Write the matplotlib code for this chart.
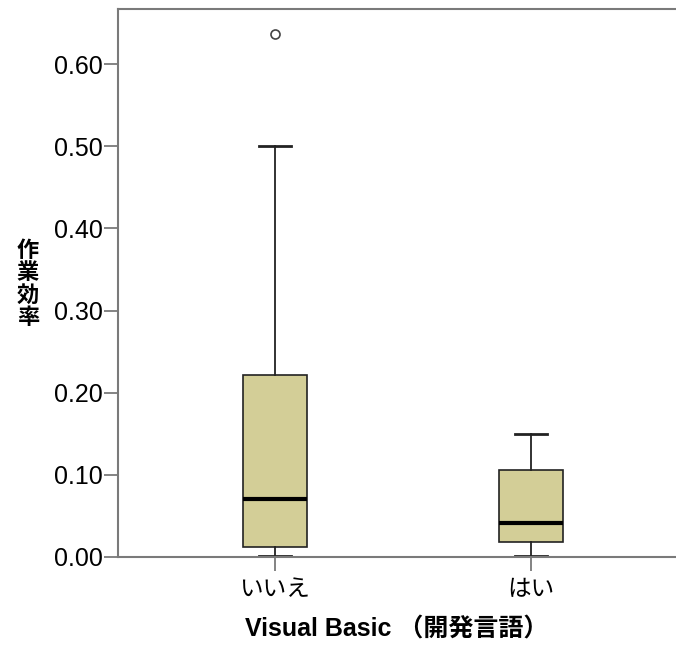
import matplotlib
matplotlib.use("Agg")
import matplotlib.pyplot as plt

# data
groups = ["いいえ", "はい"]
whis_low = [0.001, 0.001]
q1 = [0.012, 0.018]
medians = [0.071, 0.041]
q3 = [0.222, 0.106]
whis_high = [0.500, 0.150]
outliers = [[0.636], []]

y_ticks = [0.0, 0.1, 0.2, 0.3, 0.4, 0.5, 0.6]

BOX_FILL = "#D3CE97"
SPINE = "#7a7a7a"
JP = ["Noto Sans CJK JP", "DejaVu Sans"]

plt.rcParams["font.family"] = ["Liberation Sans", "Noto Sans CJK JP"]

stats = []
for i, name in enumerate(groups):
    stats.append({
        "label": name,
        "whislo": whis_low[i],
        "q1": q1[i],
        "med": medians[i],
        "q3": q3[i],
        "whishi": whis_high[i],
        "fliers": outliers[i],
    })

fig = plt.figure(figsize=(6.76, 6.46), dpi=100)
ax = fig.add_axes([118 / 676, 89 / 646, 1 - 118 / 676, 548 / 646])

ax.bxp(
    stats,
    positions=[1, 2],
    widths=0.25,
    capwidths=0.125,
    patch_artist=True,
    boxprops=dict(facecolor=BOX_FILL, edgecolor="#222222", linewidth=1.2),
    medianprops=dict(color="black", linewidth=3),
    whiskerprops=dict(color="#222222", linewidth=1.3),
    capprops=dict(color="#222222", linewidth=2),
    flierprops=dict(marker="o", markerfacecolor="white", markeredgecolor="#444444",
                    markersize=6.5, markeredgewidth=1.2),
)

ax.set_xlim(0.387, 2.566)
ax.set_ylim(0, 0.667)
ax.set_yticks(y_ticks)
ax.set_yticklabels([f"{v:.2f}" for v in y_ticks], fontsize=18)
ax.set_xticks([1, 2])
ax.set_xticklabels(groups, family=JP, fontsize=17)

for side in ("left", "bottom", "top"):
    ax.spines[side].set_color(SPINE)
    ax.spines[side].set_linewidth(1.5)
ax.spines["right"].set_visible(False)
ax.tick_params(axis="both", color=SPINE, width=1.3, length=10, pad=1)
ax.tick_params(axis="x", pad=5)

ax.set_xlabel("Visual Basic （開発言語）", family=["Liberation Sans", "Noto Sans CJK JP"],
              fontsize=18, fontweight="bold", labelpad=12)
fig.text(28 / 676, 1 - 284 / 646, "作\n業\n効\n率", family=JP, fontsize=16,
         fontweight="bold", ha="center", va="center", linespacing=0.95)

fig.savefig("out.png", dpi=100)
